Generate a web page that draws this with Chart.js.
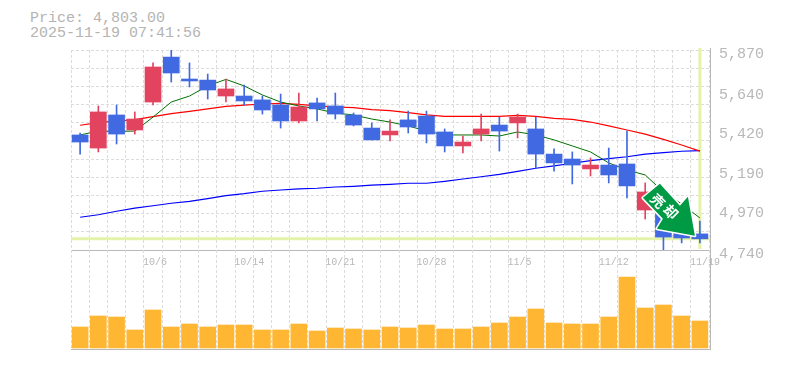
<!DOCTYPE html>
<html>
<head>
<meta charset="utf-8">
<title>Price chart</title>
<script src="https://cdn.jsdelivr.net/npm/chart.js@4/dist/chart.umd.min.js"></script>
<style>
  body { margin: 0; background: #fff; width: 785px; height: 370px; overflow: hidden; position: relative; }
  canvas { position: absolute; left: 0; }
  #price { top: 0; }
  #volume { top: 250px; }
  #info { position: absolute; left: 30px; top: 11px; font: 15px/15px "Liberation Mono", monospace; color: #b4b4b4; white-space: pre; }
</style>
</head>
<body>
<div id="info">Price: 4,803.00
2025-11-19 07:41:56</div>
<canvas id="price" width="785" height="270"></canvas>
<canvas id="volume" width="785" height="120"></canvas>
<script>
const dates = ["9/30","10/1","10/2","10/3","10/6","10/7","10/8","10/9","10/10","10/14","10/15","10/16","10/17","10/20","10/21","10/22","10/23","10/24","10/27","10/28","10/29","10/30","10/31","11/4","11/5","11/6","11/7","11/10","11/11","11/12","11/13","11/14","11/17","11/18","11/19"];
const shownDates = ["10/6","10/14","10/21","10/28","11/5","11/12","11/19"];

const opens  = [5390,5316,5503,5418,5576,5830,5706,5700,5610,5610,5588,5559,5469,5571,5554,5503,5429,5390,5475,5497,5407,5328,5395,5446,5458,5424,5282,5254,5198,5220,5226,4966,4949,4842,4831];
const highs  = [5401,5554,5559,5520,5797,5870,5797,5734,5706,5672,5610,5621,5627,5599,5627,5514,5458,5475,5525,5525,5424,5384,5508,5491,5508,5491,5311,5294,5260,5316,5412,5119,5023,4881,4904];
const lows   = [5282,5294,5339,5395,5559,5689,5661,5593,5576,5559,5508,5429,5458,5469,5480,5441,5362,5356,5401,5345,5294,5288,5356,5299,5373,5203,5186,5113,5158,5119,5034,4915,4740,4780,4780];
const closes = [5350,5520,5395,5480,5774,5740,5695,5644,5650,5582,5531,5469,5548,5537,5508,5446,5362,5412,5435,5395,5328,5350,5424,5412,5491,5282,5232,5220,5220,5164,5102,5068,4813,4808,4803];

const maShort = [5390,5412,5410,5412,5491,5576,5610,5667,5704,5667,5616,5576,5554,5537,5514,5503,5480,5463,5441,5412,5390,5390,5390,5384,5407,5390,5362,5328,5294,5232,5192,5164,5068,5000,4921];
const maMid   = [5445,5460,5469,5477,5494,5511,5523,5537,5551,5559,5565,5568,5563,5554,5548,5544,5533,5527,5516,5504,5495,5495,5495,5495,5501,5495,5484,5478,5463,5441,5418,5395,5365,5333,5299];
const maLong  = [4925,4939,4959,4977,4990,5004,5015,5030,5047,5058,5072,5079,5085,5089,5096,5100,5106,5111,5117,5117,5128,5141,5154,5167,5184,5202,5215,5230,5245,5256,5267,5282,5290,5298,5301];

const volumes = [2100,3200,3100,1800,3800,2100,2400,2100,2300,2300,1800,1800,2400,1700,2000,1900,1800,2100,2000,2300,1900,1900,2100,2500,3100,3900,2500,2400,2400,3100,7100,4000,4300,3200,2700];

const priceTicks = [5870,5640,5420,5190,4970,4740];
const lastPrice = 4803;
const signalText = ["売","却"];

const GRID = { color: "#dcdcdc", lineWidth: 1, drawTicks: false };
const DASH = { display: false, dash: [3, 2] };
const AXIS_GREY = "#b8b8b8";

const priceMin = priceTicks[priceTicks.length - 1];
const priceMax = priceTicks[0];
// the grid is a square mesh, it does not follow the price labels
const gridValues = [];
for (let i = 0; i <= 11; i++) gridValues.push(priceMin + (priceMax - priceMin) * i / 11);

const candleColors = closes.map((c, i) => c >= opens[i] ? "#e2435f" : "#4169e1");

const frame = {
  id: "frame",
  afterDatasetsDraw(chart) {
    const a = chart.chartArea, ctx = chart.ctx;
    ctx.save();
    ctx.strokeStyle = AXIS_GREY;
    ctx.lineWidth = 1;
    ctx.beginPath();
    ctx.moveTo(a.right + 1.5, a.top - 2);
    ctx.lineTo(a.right + 1.5, a.bottom + 1);
    ctx.moveTo(a.left, a.bottom + 0.5);
    ctx.lineTo(a.right + 2, a.bottom + 0.5);
    ctx.stroke();
    ctx.restore();
  }
};

const lastPriceLines = {
  id: "lastPriceLines",
  beforeDatasetsDraw(chart) {
    const a = chart.chartArea, ctx = chart.ctx;
    const yp = chart.scales.y.getPixelForValue(lastPrice);
    const xp = chart.scales.x.getPixelForValue(dates.length - 1);
    ctx.save();
    ctx.strokeStyle = "#e4f3a8";
    ctx.lineWidth = 3;
    ctx.beginPath();
    ctx.moveTo(a.left, yp);
    ctx.lineTo(a.right + 1, yp);
    ctx.moveTo(xp, a.top - 2);
    ctx.lineTo(xp, a.bottom - 1);
    ctx.stroke();
    ctx.restore();
  }
};

// sell marker, anchored on the last candle
const signalArrow = {
  id: "signalArrow",
  afterDraw(chart) {
    const ctx = chart.ctx;
    const tx = chart.scales.x.getPixelForValue(dates.length - 1) - 5;
    const ty = chart.scales.y.getPixelForValue(closes[closes.length - 1]) - 3;
    const shape = [[-35,-52],[-15,-30],[-7,-39],[0,0],[-38,-7],[-32,-17],[-52,-38]];
    ctx.save();
    ctx.beginPath();
    shape.forEach((p, i) => i ? ctx.lineTo(tx + p[0], ty + p[1]) : ctx.moveTo(tx + p[0], ty + p[1]));
    ctx.closePath();
    ctx.lineJoin = "round";
    ctx.lineWidth = 3;
    ctx.strokeStyle = "#fff";
    ctx.stroke();
    ctx.fillStyle = "#009944";
    ctx.fill();
    ctx.fillStyle = "#fff";
    ctx.font = 'bold 14px "Noto Sans CJK JP"';
    ctx.textAlign = "center";
    ctx.textBaseline = "middle";
    [[-37,-35],[-24,-24]].forEach((p, i) => {
      ctx.save();
      ctx.translate(tx + p[0], ty + p[1]);
      ctx.rotate(Math.PI / 4);
      ctx.fillText(signalText[i], 0, 0);
      ctx.restore();
    });
    ctx.restore();
  }
};

function maLine(data, color, width) {
  return { type: "line", data: data, borderColor: color, borderWidth: width, pointRadius: 0, tension: 0, order: 3, yAxisID: "y" };
}

new Chart(document.getElementById("price"), {
  data: {
    labels: dates,
    datasets: [
      { type: "bar", data: opens.map((o, i) => [Math.min(o, closes[i]), Math.max(o, closes[i])]), backgroundColor: candleColors, barThickness: 16, grouped: false, borderSkipped: false, order: 1, yAxisID: "y" },
      { type: "bar", data: lows.map((l, i) => [l, highs[i]]), backgroundColor: candleColors, barThickness: 1, grouped: false, borderSkipped: false, order: 2, yAxisID: "y" },
      maLine(maShort, "#007000", 1),
      maLine(maMid, "#ff0000", 1.2),
      maLine(maLong, "#0000ff", 1.2)
    ]
  },
  options: {
    responsive: false,
    animation: false,
    layout: { padding: { left: 71, top: 50, bottom: 20, right: 0 } },
    plugins: { legend: { display: false }, tooltip: { enabled: false } },
    scales: {
      x: {
        offset: true,
        grid: { ...GRID, offset: true },
        border: DASH,
        ticks: { display: false },
        afterFit(s) { s.height = 0; }
      },
      yGrid: {
        position: "right",
        min: priceMin,
        max: priceMax,
        grid: GRID,
        border: DASH,
        ticks: { display: false },
        afterBuildTicks(s) { s.ticks = gridValues.map(v => ({ value: v })); },
        afterFit(s) { s.width = 0; }
      },
      y: {
        position: "right",
        min: priceMin,
        max: priceMax,
        grid: { display: false, drawTicks: false },
        border: { display: false },
        ticks: {
          color: AXIS_GREY,
          padding: 10,
          labelOffset: 4,
          font: { family: '"Liberation Mono"', size: 15 },
          callback: v => v.toLocaleString("en-US")
        },
        afterBuildTicks(s) { s.ticks = priceTicks.map(v => ({ value: v })); },
        afterFit(s) { s.width = 76; }
      }
    }
  },
  plugins: [lastPriceLines, frame, signalArrow]
});

new Chart(document.getElementById("volume"), {
  type: "bar",
  data: {
    labels: dates,
    datasets: [{ data: volumes, backgroundColor: "#ffb733", barThickness: 16 }]
  },
  options: {
    responsive: false,
    animation: false,
    layout: { padding: { left: 71, right: 76, top: 0, bottom: 21 } },
    plugins: { legend: { display: false }, tooltip: { enabled: false } },
    scales: {
      x: {
        position: "top",
        offset: true,
        grid: { ...GRID, offset: true },
        border: DASH,
        ticks: {
          autoSkip: false,
          maxRotation: 0,
          align: "start",
          labelOffset: -10,
          mirror: true,
          padding: 6,
          color: AXIS_GREY,
          font: { family: '"Liberation Mono"', size: 10 },
          callback(v) {
            const d = this.getLabelForValue(v);
            return shownDates.includes(d) ? d : "";
          }
        },
        afterFit(s) { s.height = 0; }
      },
      y: { display: false, min: -100, max: 9800 }
    }
  },
  plugins: [frame]
});
</script>
</body>
</html>
